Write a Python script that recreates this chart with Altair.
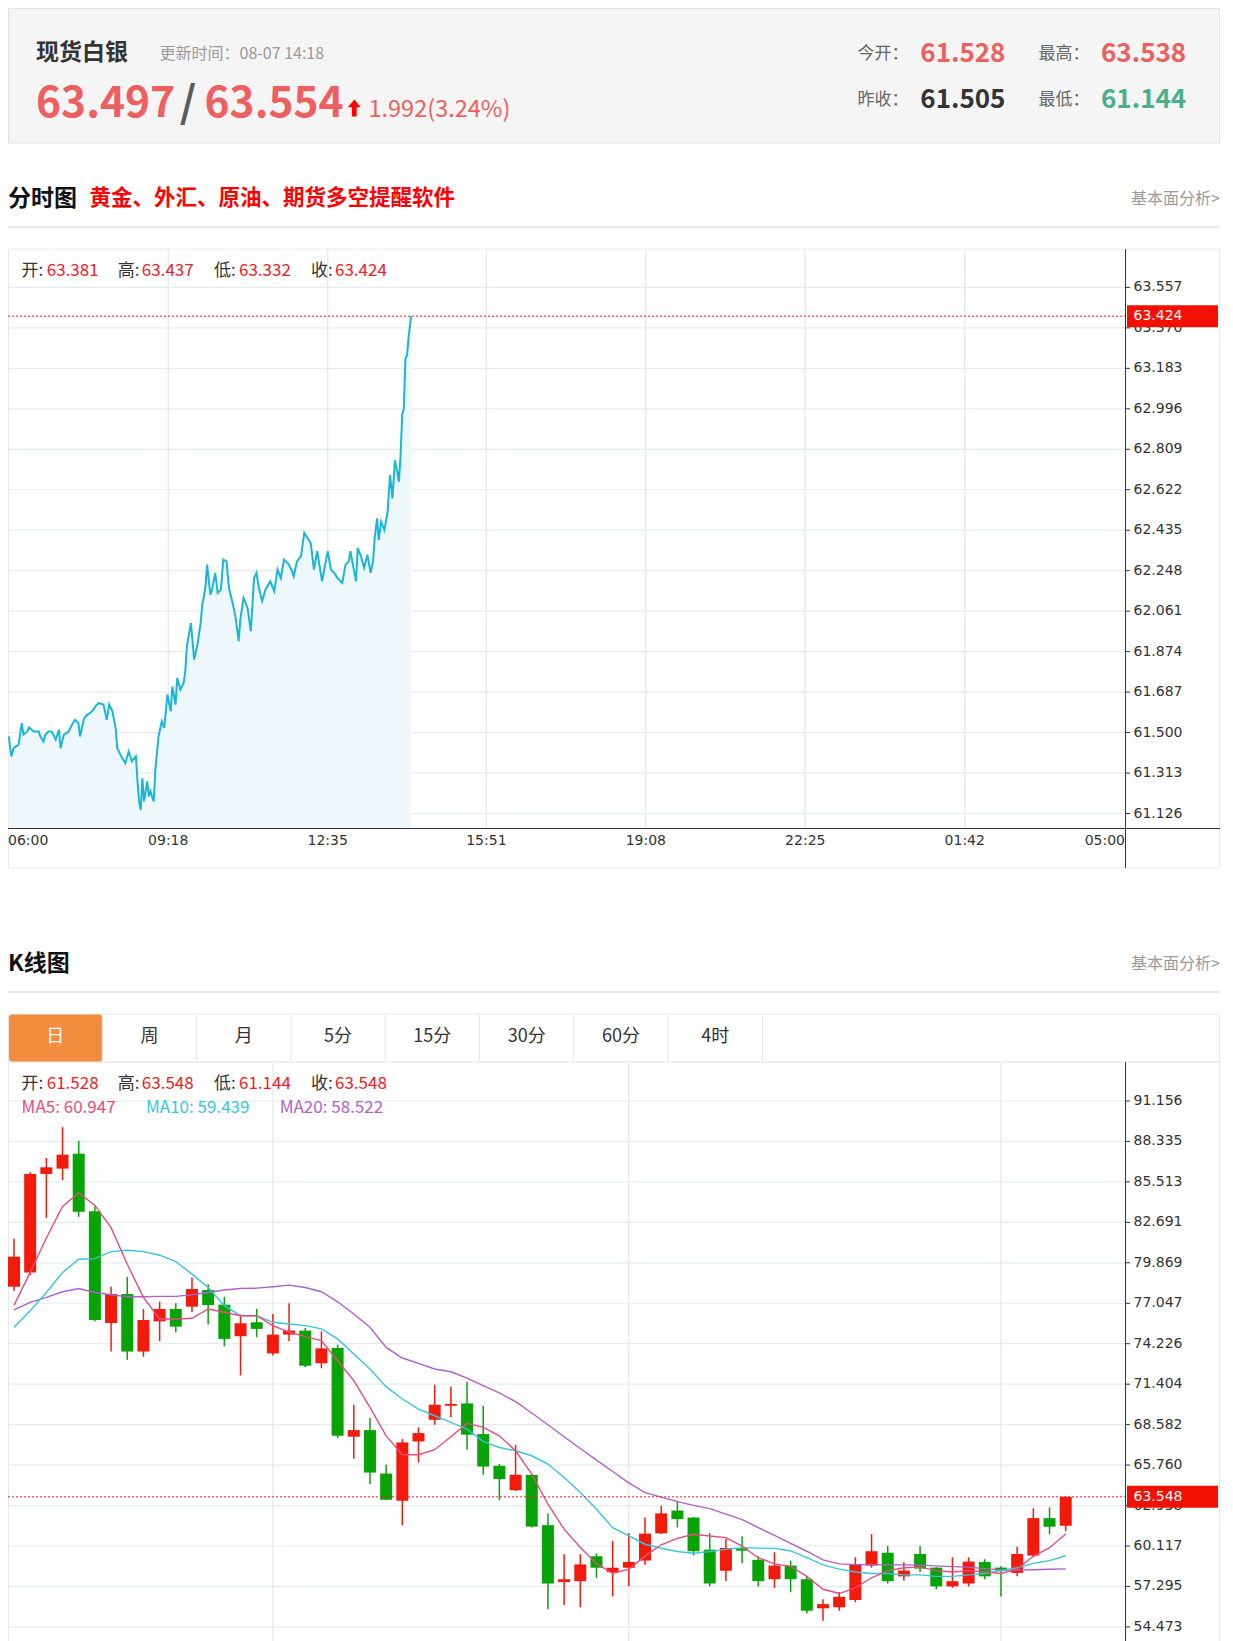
import altair as alt
import pandas as pd

# ---------------- header quote ----------------
instrument = "现货白银"
update_time = "08-07 14:18"
bid, ask = 63.497, 63.554
change, change_pct = 1.992, 3.24
today_open, day_high = 61.528, 63.538
prev_close, day_low = 61.505, 61.144

# ---------------- intraday (分时图) ----------------
intraday_times = [
    "06:01", "06:04", "06:07", "06:13", "06:17", "06:19", "06:24", "06:26", "06:32", "06:38",
    "06:40", "06:44", "06:46", "06:50", "06:54", "06:59", "07:03", "07:05", "07:09", "07:15",
    "07:19", "07:23", "07:27", "07:29", "07:34", "07:38", "07:44", "07:48", "07:52", "07:58",
    "08:02", "08:05", "08:09", "08:13", "08:15", "08:21", "08:25", "08:29", "08:33", "08:38",
    "08:40", "08:42", "08:44", "08:46", "08:48", "08:52", "08:54", "08:56", "09:00", "09:02",
    "09:06", "09:10", "09:13", "09:17", "09:21", "09:23", "09:27", "09:29", "09:33", "09:37",
    "09:39", "09:41", "09:46", "09:50", "09:54", "09:58", "10:00", "10:02", "10:04", "10:06",
    "10:10", "10:12", "10:16", "10:19", "10:23", "10:26", "10:30", "10:33", "10:37", "10:41",
    "10:45", "10:47", "10:51", "10:56", "11:00", "11:04", "11:07", "11:10", "11:14", "11:18",
    "11:24", "11:29", "11:33", "11:37", "11:41", "11:47", "11:51", "11:53", "11:57", "12:02",
    "12:06", "12:10", "12:14", "12:18", "12:22", "12:28", "12:35", "12:39", "12:43", "12:47",
    "12:53", "12:57", "13:01", "13:03", "13:10", "13:12", "13:16", "13:20", "13:24", "13:28",
    "13:31", "13:33", "13:36", "13:38", "13:41", "13:45", "13:49", "13:52", "13:55", "13:58",
    "14:01", "14:03", "14:05", "14:07", "14:09", "14:11", "14:13", "14:15", "14:18",
]
intraday_prices = [
    61.482, 61.390, 61.428, 61.444, 61.544, 61.490, 61.505, 61.524, 61.505, 61.505,
    61.482, 61.459, 61.490, 61.505, 61.505, 61.467, 61.513, 61.428, 61.490, 61.505,
    61.536, 61.559, 61.544, 61.482, 61.567, 61.582, 61.598, 61.621, 61.636, 61.629,
    61.559, 61.629, 61.598, 61.521, 61.428, 61.382, 61.359, 61.413, 61.367, 61.390,
    61.274, 61.182, 61.143, 61.289, 61.182, 61.274, 61.205, 61.228, 61.182, 61.328,
    61.482, 61.552, 61.521, 61.675, 61.598, 61.713, 61.629, 61.752, 61.698, 61.729,
    61.783, 61.898, 62.006, 61.837, 61.906, 62.006, 62.091, 62.130, 62.176, 62.276,
    62.137, 62.160, 62.238, 62.145, 62.160, 62.299, 62.291, 62.168, 62.107, 62.037,
    61.922, 62.022, 62.122, 62.076, 61.968, 62.214, 62.238, 62.168, 62.107, 62.160,
    62.199, 62.153, 62.253, 62.214, 62.299, 62.276, 62.245, 62.222, 62.291, 62.315,
    62.423, 62.399, 62.376, 62.253, 62.338, 62.199, 62.338, 62.253, 62.238, 62.214,
    62.191, 62.276, 62.291, 62.338, 62.199, 62.353, 62.315, 62.261, 62.322, 62.238,
    62.291, 62.397, 62.490, 62.390, 62.474, 62.436, 62.520, 62.690, 62.582, 62.759,
    62.705, 62.659, 62.782, 62.967, 62.998, 63.228, 63.244, 63.330, 63.424,
]
last_bar = [("开:", 63.381), ("高:", 63.437), ("低:", 63.332), ("收:", 63.424)]
intraday_ticks = [63.557, 63.370, 63.183, 62.996, 62.809, 62.622, 62.435,
                  62.248, 62.061, 61.874, 61.687, 61.500, 61.313, 61.126]
time_ticks = ["06:00", "09:18", "12:35", "15:51", "19:08", "22:25", "01:42", "05:00"]

# ---------------- daily K line (K线图) ----------------
k_open = [78.20, 79.19, 86.07, 86.44, 87.48, 83.47, 75.67, 77.69, 73.68, 75.79,
          76.65, 76.81, 77.97, 76.95, 74.75, 75.72, 73.55, 74.86, 75.14, 72.86,
          73.93, 67.74, 68.20, 65.17, 63.27, 67.41, 68.92, 69.90, 70.06, 67.92,
          65.71, 64.01, 65.08, 61.57, 57.60, 57.66, 59.40, 58.30, 58.60, 59.10,
          61.00, 62.59, 62.10, 59.86, 58.39, 59.955, 59.15, 57.80, 58.75, 57.80,
          55.77, 55.84, 56.35, 58.75, 59.65, 58.00, 59.56, 58.61, 57.30, 57.50,
          59.00, 58.61, 58.24, 59.45, 62.06, 61.528]
k_high = [81.55, 86.18, 87.18, 89.33, 88.38, 83.82, 78.20, 78.89, 76.65, 77.16,
          77.04, 78.85, 78.38, 77.50, 76.25, 76.65, 76.30, 77.04, 75.33, 75.09,
          74.16, 69.97, 69.04, 65.78, 67.57, 68.39, 71.37, 71.23, 71.58, 69.90,
          65.83, 67.18, 65.17, 62.38, 59.54, 59.54, 59.60, 60.47, 61.00, 62.10,
          62.92, 63.23, 62.15, 61.02, 60.60, 60.79, 59.40, 59.68, 59.10, 58.00,
          56.40, 56.90, 59.33, 60.95, 60.12, 58.98, 60.12, 58.64, 59.33, 59.33,
          59.19, 58.70, 60.07, 62.75, 62.80, 63.548]
k_low = [77.90, 79.00, 83.01, 85.63, 83.08, 75.79, 73.68, 73.10, 73.32, 74.41,
         75.03, 76.42, 75.56, 74.05, 72.01, 74.68, 73.40, 74.41, 72.60, 72.51,
         67.64, 66.22, 64.43, 63.30, 61.57, 65.94, 68.57, 69.09, 66.83, 65.08,
         63.31, 63.95, 61.40, 55.70, 56.00, 55.84, 57.90, 56.60, 57.30, 58.80,
         60.95, 61.41, 59.46, 57.30, 57.66, 58.91, 57.30, 57.20, 56.90, 55.40,
         54.90, 55.60, 56.20, 58.60, 57.50, 57.70, 58.30, 57.10, 57.20, 57.30,
         57.80, 56.60, 58.00, 59.40, 60.94, 61.144]
k_close = [80.30, 86.07, 86.53, 87.41, 83.43, 75.88, 77.69, 73.68, 75.88, 76.65,
           75.42, 78.04, 76.92, 74.56, 75.65, 75.26, 74.86, 75.14, 72.69, 73.90,
           67.81, 68.20, 65.24, 63.34, 67.34, 67.99, 69.97, 70.02, 67.88, 65.66,
           64.78, 65.08, 61.47, 57.50, 57.80, 58.83, 58.60, 58.60, 59.00, 60.98,
           62.39, 61.99, 59.75, 57.50, 59.98, 59.79, 57.66, 58.75, 57.80, 55.60,
           56.06, 56.57, 58.80, 59.75, 57.66, 58.40, 58.54, 57.30, 57.66, 59.03,
           58.00, 58.40, 59.56, 62.06, 61.46, 63.548]
k_ma5 = [76.90, 79.20, 81.60, 83.80, 84.75, 83.87, 82.32, 79.77, 77.46, 75.95,
         75.95, 76.00, 76.65, 76.42, 76.18, 76.18, 75.49, 75.03, 74.72, 74.44,
         73.04, 71.65, 69.78, 67.80, 66.48, 66.48, 66.83, 67.74, 68.67, 68.39,
         67.80, 66.76, 65.13, 63.03, 61.29, 60.01, 58.90, 58.20, 58.50, 59.41,
         60.20, 60.65, 60.93, 60.81, 60.70, 60.11, 59.30, 58.87, 58.70, 58.00,
         57.10, 56.80, 57.20, 57.90, 58.40, 58.60, 58.64, 58.40, 58.30, 58.40,
         58.30, 58.20, 58.50, 59.40, 60.00, 60.947]
k_ma10 = [75.37, 76.53, 77.80, 79.19, 80.12, 80.16, 80.65, 80.74, 80.65, 80.40,
          79.96, 79.08, 78.15, 76.88, 76.18, 76.18, 75.72, 75.60, 75.49, 75.26,
          74.56, 73.51, 72.46, 71.23, 70.37, 69.67, 69.20, 68.74, 68.27, 67.41,
          66.99, 66.76, 66.41, 65.83, 64.90, 63.85, 62.68, 61.40, 60.82, 60.24,
          59.96, 59.73, 59.61, 59.72, 59.88, 60.00, 59.97, 59.95, 59.77, 59.30,
          58.80, 58.50, 58.30, 58.20, 58.20, 58.10, 58.10, 58.00, 58.00, 58.10,
          58.20, 58.40, 58.60, 58.90, 59.10, 59.439]
k_ma20 = [76.58, 77.11, 77.46, 77.85, 78.08, 77.80, 77.64, 77.50, 77.50, 77.53,
          77.53, 77.64, 77.80, 77.97, 78.08, 78.10, 78.20, 78.31, 78.15, 77.85,
          77.15, 76.30, 75.37, 73.97, 73.23, 72.86, 72.46, 72.27, 71.83, 71.30,
          70.79, 70.18, 69.39, 68.57, 67.74, 66.92, 66.11, 65.31, 64.52, 63.84,
          63.52, 63.21, 62.95, 62.72, 62.34, 61.95, 61.40, 60.85, 60.30, 59.75,
          59.15, 58.87, 58.82, 58.82, 58.82, 58.80, 58.78, 58.73, 58.68, 58.64,
          58.54, 58.45, 58.43, 58.46, 58.49, 58.522]
month_starts = [16, 38, 61]
k_ticks = [91.156, 88.335, 85.513, 82.691, 79.869, 77.047, 74.226,
           71.404, 68.582, 65.760, 62.938, 60.117, 57.295, 54.473]
tab_labels = ["日", "周", "月", "5分", "15分", "30分", "60分", "4时"]

# ---------------- styles ----------------
FONT = "Noto Sans CJK SC"
AXF = "DejaVu Sans"
RED_L = "#ee5f5f"
GREEN_L = "#4caf8c"
VAL_RED = "#f0201e"
GRID = "#e4ecf1"
UP = "#f21a0b"
DOWN = "#07a307"
BOX_RED = "#f21000"

W, H = 1212, 1633
PLOT_R = 1117
DY = 2.5  # vertical offset for everything below the quote header


def to_min(s):
    h, m = map(int, s.split(":"))
    return (h * 60 + m - 360) % 1440


one = pd.DataFrame({"d": [0]})


def text(s, x, y, size, color, weight="normal", align="left", baseline="middle", font=FONT):
    return alt.Chart(one).mark_text(
        text=s, fontSize=size, color=color, fontWeight=weight,
        align=align, baseline=baseline, font=font
    ).encode(x=alt.value(x), y=alt.value(y))


def rect(x1, x2, y1, y2, fill, stroke=None, radius=0):
    kw = dict(fill=fill, cornerRadius=radius)
    if stroke:
        kw.update(stroke=stroke, strokeWidth=1)
    return alt.Chart(one).mark_rect(**kw).encode(
        x=alt.value(x1), x2=alt.value(x2), y=alt.value(y1), y2=alt.value(y2))


def hline(x1, x2, y, color, width=1):
    return alt.Chart(one).mark_rule(color=color, strokeWidth=width).encode(
        x=alt.value(x1), x2=alt.value(x2), y=alt.value(y))


def vline(x, y1, y2, color, width=1):
    return alt.Chart(one).mark_rule(color=color, strokeWidth=width).encode(
        x=alt.value(x), y=alt.value(y1), y2=alt.value(y2))


BOX_PATH = "M-1,-0.2418L1,-0.2418L1,0.2418L-1,0.2418Z"
ARROW_PATH = "M0,-1L0.75,-0.1L0.28,-0.1L0.28,1L-0.28,1L-0.28,-0.1L-0.75,-0.1Z"

layers = []

# ================= header =================
layers.append(rect(0.5, W - 0.5, 0.5, 135, "#f5f5f5", "#e2e2e2"))
layers.append(text(instrument, 28, 44.5, 23, "#333333", "bold"))
layers.append(text("更新时间：" + update_time, 151.5, 46, 16, "#9a9a9a"))
layers.append(text(f"{bid:.3f}", 28, 109, 42.5, RED_L, "bold", baseline="alphabetic"))
layers.append(text("/", 180, 109, 42.5, "#5a5a5a", "bold", align="center", baseline="alphabetic"))
layers.append(text(f"{ask:.3f}", 196.5, 109, 42.5, RED_L, "bold", baseline="alphabetic"))
layers.append(alt.Chart(one).mark_point(shape=ARROW_PATH, size=289, filled=True, color="#ff0000",
                                        opacity=1, strokeWidth=0)
              .encode(x=alt.value(346.3), y=alt.value(100)))
layers.append(text(f"{change:.3f}({change_pct:.2f}%)", 360.5, 109, 23.5, RED_L, baseline="alphabetic"))
for lab, val, col, x0, xv, y0 in [
    ("今开：", today_open, RED_L, 849.6, 912.3, 46.3),
    ("最高：", day_high, RED_L, 1030.4, 1093, 46.3),
    ("昨收：", prev_close, "#333333", 849.6, 912.3, 92.3),
    ("最低：", day_low, GREEN_L, 1030.4, 1093, 92.3),
]:
    layers.append(text(lab, x0, y0, 17, "#666666"))
    layers.append(text(f"{val:.3f}", xv, y0, 26, col, "bold"))

# ================= intraday section =================
layers.append(text("分时图", 0, 188.5 + DY, 23, "#111111", "bold"))
layers.append(text("黄金、外汇、原油、期货多空提醒软件", 81.5, 188.5 + DY, 21.5, "#ff0000", "bold"))
layers.append(text("基本面分析>", W, 188.5 + DY, 16, "#9a9a9a", align="right"))
layers.append(hline(0, W, 216.5 + DY, "#d5d5d5"))

T_TOP, T_BOT, T_BOX_BOT = 238.6 + DY, 817.5 + DY, 857.3 + DY
T_YMIN, T_YMAX = 61.059, 63.734
T_X = alt.Scale(domain=[0, 1380], range=[0, PLOT_R], zero=False, nice=False)
T_Y = alt.Scale(domain=[T_YMIN, T_YMAX], range=[T_BOT, T_TOP], zero=False, nice=False)

layers.append(rect(0.5, W - 0.5, T_TOP, T_BOX_BOT, "#ffffff", "#e8e8e8"))

df_t = pd.DataFrame({"minute": [to_min(t) for t in intraday_times], "price": intraday_prices})
df_ty = pd.DataFrame({"v": intraday_ticks})
df_tx = pd.DataFrame({"m": [to_min(t) for t in time_ticks], "lab": time_ticks})
df_tx.loc[df_tx.index[-1], "m"] = 1380
df_tlast = pd.DataFrame({"p": [intraday_prices[-1]]})

layers.append(alt.Chart(df_ty).mark_rule(color=GRID, strokeWidth=1.2).encode(
    y=alt.Y("v:Q", scale=T_Y, axis=None), x=alt.value(0), x2=alt.value(PLOT_R)))
layers.append(alt.Chart(df_tx.iloc[1:-1]).mark_rule(color=GRID, strokeWidth=1.4).encode(
    x=alt.X("m:Q", scale=T_X, axis=None), y=alt.value(T_TOP), y2=alt.value(T_BOT)))
layers.append(alt.Chart(df_t).mark_area(color="#eef8fc", opacity=1).encode(
    x=alt.X("minute:Q", scale=T_X, axis=None),
    y=alt.Y("price:Q", scale=T_Y, axis=None),
    y2=alt.datum(T_YMIN)))
layers.append(alt.Chart(df_t).mark_line(color="#19b6d8", strokeWidth=2).encode(
    x=alt.X("minute:Q", scale=T_X, axis=None),
    y=alt.Y("price:Q", scale=T_Y, axis=None)))
layers.append(alt.Chart(df_tlast).mark_rule(color="#ff1a1a", strokeWidth=1, strokeDash=[2, 2]).encode(
    y=alt.Y("p:Q", scale=T_Y, axis=None), x=alt.value(0), x2=alt.value(PLOT_R)))
layers.append(vline(PLOT_R + 0.5, T_TOP, T_BOX_BOT, "#333333"))
layers.append(hline(0, W, T_BOT + 0.5, "#333333"))
layers.append(alt.Chart(df_ty).mark_rule(color="#333333", strokeWidth=1).encode(
    y=alt.Y("v:Q", scale=T_Y, axis=None), x=alt.value(PLOT_R), x2=alt.value(PLOT_R + 5)))
layers.append(alt.Chart(df_ty).mark_text(align="left", baseline="middle", font=AXF, fontSize=14,
                                         color="#333333").encode(
    y=alt.Y("v:Q", scale=T_Y, axis=None), x=alt.value(1125.5),
    text=alt.Text("v:Q", format=".3f")))
layers.append(alt.Chart(df_tlast).mark_point(shape=BOX_PATH, size=8281, filled=True, color=BOX_RED,
                                             opacity=1, strokeWidth=0).encode(
    y=alt.Y("p:Q", scale=T_Y, axis=None), x=alt.value(1164.5)))
layers.append(alt.Chart(df_tlast).mark_text(align="left", baseline="middle", font=AXF, fontSize=14,
                                            color="#ffffff").encode(
    y=alt.Y("p:Q", scale=T_Y, axis=None), x=alt.value(1125.5),
    text=alt.Text("p:Q", format=".3f")))
for k, al in [(0, "left"), (len(time_ticks) - 1, "right")]:
    layers.append(alt.Chart(df_tx.iloc[[k]]).mark_text(align=al, baseline="middle", font=AXF,
                                                       fontSize=14, color="#333333").encode(
        x=alt.X("m:Q", scale=T_X, axis=None), y=alt.value(830 + DY), text="lab:N"))
layers.append(alt.Chart(df_tx.iloc[1:-1]).mark_text(align="center", baseline="middle", font=AXF,
                                                    fontSize=14, color="#333333").encode(
    x=alt.X("m:Q", scale=T_X, axis=None), y=alt.value(830 + DY), text="lab:N"))

info_x = [(13.6, 38.7), (109.7, 133.8), (205.9, 231.0), (303.0, 327.0)]
for (lab, val), (xl, xv) in zip(last_bar, info_x):
    layers.append(text(lab, xl, 260.6 + DY, 17, "#333333"))
    layers.append(text(f"{val:.3f}", xv, 260.6 + DY, 17, VAL_RED))

# ================= K line section =================
layers.append(text("K线图", 0, 953.4 + DY, 23, "#111111", "bold"))
layers.append(text("基本面分析>", W, 953.4 + DY, 16, "#9a9a9a", align="right"))
layers.append(hline(0, W, 981.5 + DY, "#d5d5d5"))

TAB_T, TAB_B, TAB_W = 1003.6 + DY, 1051.7 + DY, 94.3
layers.append(rect(0.5, W - 0.5, TAB_T, TAB_B, "#ffffff", "#e6e6e6"))
layers.append(rect(1, TAB_W, TAB_T + 0.5, TAB_B - 0.5, "#f28c3f", radius=3))
for k in range(1, len(tab_labels) + 1):
    layers.append(vline(TAB_W * k, TAB_T, TAB_B, "#e6e6e6"))
for k, lab in enumerate(tab_labels):
    layers.append(text(lab, TAB_W * (k + 0.5), 1026.6 + DY, 18, "#ffffff" if k == 0 else "#333333",
                       align="center"))

K_TOP, K_BOT = TAB_B, 1652 + DY
K_X = alt.Scale(domain=[-0.3708, 68.665], range=[0, PLOT_R], zero=False, nice=False)
K_Y = alt.Scale(domain=[51.990, 93.862], range=[K_BOT, K_TOP], zero=False, nice=False)

layers.append(rect(0.5, W - 0.5, K_TOP, 1700, "#ffffff", "#e8e8e8"))

df_k = pd.DataFrame({"i": list(range(len(k_open))), "open": k_open, "high": k_high,
                     "low": k_low, "close": k_close, "ma5": k_ma5, "ma10": k_ma10, "ma20": k_ma20})
df_ky = pd.DataFrame({"v": k_ticks})
df_km = pd.DataFrame({"i": month_starts})
df_klast = pd.DataFrame({"p": [k_close[-1]]})

layers.append(alt.Chart(df_ky).mark_rule(color=GRID, strokeWidth=1.2).encode(
    y=alt.Y("v:Q", scale=K_Y, axis=None), x=alt.value(0), x2=alt.value(PLOT_R)))
layers.append(alt.Chart(df_km).mark_rule(color=GRID, strokeWidth=1.4).encode(
    x=alt.X("i:Q", scale=K_X, axis=None), y=alt.value(K_TOP), y2=alt.value(K_BOT)))

updown = alt.condition("datum.close >= datum.open", alt.value(UP), alt.value(DOWN))
layers.append(alt.Chart(df_k).mark_rule(strokeWidth=1.5).encode(
    x=alt.X("i:Q", scale=K_X, axis=None),
    y=alt.Y("low:Q", scale=K_Y, axis=None), y2="high:Q", color=updown))
layers.append(alt.Chart(df_k).transform_calculate(
    lo="datum.i - 0.371", hi="datum.i + 0.371",
    top="max(datum.open, datum.close)", bot="min(datum.open, datum.close)"
).mark_rect().encode(
    x=alt.X("lo:Q", scale=K_X, axis=None), x2="hi:Q",
    y=alt.Y("bot:Q", scale=K_Y, axis=None), y2="top:Q", color=updown))

for col, c in [("ma20", "#b15fca"), ("ma10", "#36c6dc"), ("ma5", "#e94b81")]:
    layers.append(alt.Chart(df_k).mark_line(color=c, strokeWidth=1.4).encode(
        x=alt.X("i:Q", scale=K_X, axis=None), y=alt.Y(f"{col}:Q", scale=K_Y, axis=None)))

layers.append(alt.Chart(df_klast).mark_rule(color="#ff1a1a", strokeWidth=1, strokeDash=[2, 2]).encode(
    y=alt.Y("p:Q", scale=K_Y, axis=None), x=alt.value(0), x2=alt.value(PLOT_R)))
layers.append(vline(PLOT_R + 0.5, K_TOP, 1700, "#333333"))
layers.append(alt.Chart(df_ky).mark_rule(color="#333333", strokeWidth=1).encode(
    y=alt.Y("v:Q", scale=K_Y, axis=None), x=alt.value(PLOT_R), x2=alt.value(PLOT_R + 5)))
layers.append(alt.Chart(df_ky).mark_text(align="left", baseline="middle", font=AXF, fontSize=14,
                                         color="#333333").encode(
    y=alt.Y("v:Q", scale=K_Y, axis=None), x=alt.value(1125.5),
    text=alt.Text("v:Q", format=".3f")))
layers.append(alt.Chart(df_klast).mark_point(shape=BOX_PATH, size=8281, filled=True, color=BOX_RED,
                                             opacity=1, strokeWidth=0).encode(
    y=alt.Y("p:Q", scale=K_Y, axis=None), x=alt.value(1164.5)))
layers.append(alt.Chart(df_klast).mark_text(align="left", baseline="middle", font=AXF, fontSize=14,
                                            color="#ffffff").encode(
    y=alt.Y("p:Q", scale=K_Y, axis=None), x=alt.value(1125.5),
    text=alt.Text("p:Q", format=".3f")))

k_info = [("开:", k_open[-1]), ("高:", k_high[-1]), ("低:", k_low[-1]), ("收:", k_close[-1])]
for (lab, val), (xl, xv) in zip(k_info, info_x):
    layers.append(text(lab, xl, 1073.6 + DY, 17, "#333333"))
    layers.append(text(f"{val:.3f}", xv, 1073.6 + DY, 17, VAL_RED))
for s, x, c in [(f"MA5: {k_ma5[-1]:.3f}", 13.6, "#e94b81"),
                (f"MA10: {k_ma10[-1]:.3f}", 138, "#36c6dc"),
                (f"MA20: {k_ma20[-1]:.3f}", 271.7, "#b15fca")]:
    layers.append(text(s, x, 1097.6 + DY, 17, c))

chart = alt.layer(*layers).resolve_scale(x="independent", y="independent").properties(
    width=W, height=H, padding=0, background="white",
    autosize=alt.AutoSizeParams(type="none"),
).configure_view(stroke=None)

chart.save("out.html", embed_options={"renderer": "svg", "actions": False})
